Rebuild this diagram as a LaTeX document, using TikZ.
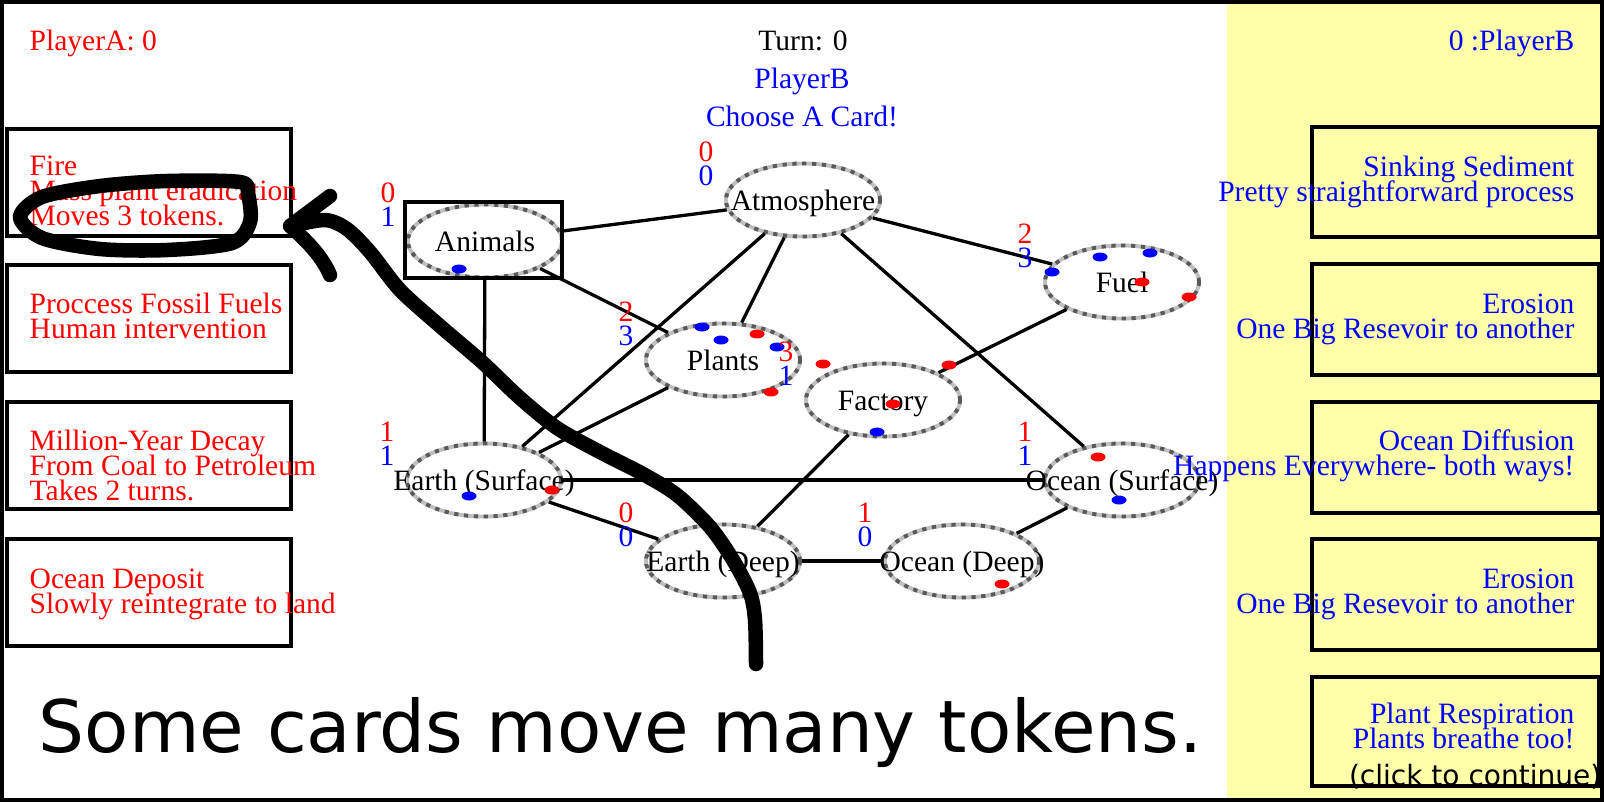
\documentclass[tikz,border=0pt]{standalone}
\usepackage{fontspec}
\setmainfont{Liberation Serif}
\newfontfamily\capfont{DejaVu Sans}
\usetikzlibrary{shapes.geometric}
\definecolor{panel}{RGB}{255,255,170}

\begin{document}
\begin{tikzpicture}[x=0.01cm, y=-0.01cm,
    txt/.style={inner sep=0pt, font=\fontsize{8.4}{10}\selectfont},
    cardA/.style={txt, red, anchor=base west},
    cardB/.style={txt, blue, anchor=base east},
    cnt/.style={txt, anchor=base},
    pool/.style={ellipse, minimum width=1.54cm, minimum height=0.73cm, inner sep=0pt,
        fill=white, draw=black!25, line width=1.1pt,
        postaction={draw=black!65, line width=1.1pt, dash pattern=on 1.2pt off 1.6pt}},
    pooltxt/.style={txt, anchor=base},
    card/.style={draw=black, line width=0.04cm},
    link/.style={draw=black, line width=0.033cm},
    marker/.style={draw=black, line width=0.145cm, line cap=round, line join=round}]
    \useasboundingbox (0,0) rectangle (1604,802);

    % panel and frame
    \fill[panel] (1227,0) rectangle (1604,802);
    \draw[line width=0.04cm] (2,2) rectangle (1602,800);

    % cards of player A
    \draw[card] (7,129) rectangle (291,236);
    \draw[card] (7,265) rectangle (291,372);
    \draw[card] (7,402) rectangle (291,509);
    \draw[card] (7,539) rectangle (291,646);
    % cards of player B
    \draw[card] (1312,127) rectangle (1599,237);
    \draw[card] (1312,264) rectangle (1599,375);
    \draw[card] (1312,402) rectangle (1599,513);
    \draw[card] (1312,539) rectangle (1599,650);
    \draw[card] (1312,677) rectangle (1599,786);

    % reservoirs
    \node[pool] (atmo) at (803,200) {};
    \node[pool] (animals) at (485,241) {};
    \node[pool] (plants) at (723,360) {};
    \node[pool] (fuel) at (1122,282) {};
    \node[pool] (factory) at (883,400) {};
    \node[pool] (earthS) at (484,480) {};
    \node[pool] (earthD) at (723,561) {};
    \node[pool] (oceanS) at (1122,480) {};
    \node[pool] (oceanD) at (962,561) {};
    \draw[card, line width=0.035cm] (405,202) rectangle (562,278);

    \draw[link] (animals) -- (atmo);
    \draw[link] (animals) -- (plants);
    \draw[link] (animals) -- (earthS);
    \draw[link] (atmo) -- (plants);
    \draw[link] (atmo) -- (earthS);
    \draw[link] (atmo) -- (fuel);
    \draw[link] (atmo) -- (oceanS);
    \draw[link] (fuel) -- (factory);
    \draw[link] (plants) -- (earthS);
    \draw[link] (factory) -- (earthD);
    \draw[link] (earthS) -- (oceanS);
    \draw[link] (earthS) -- (earthD);
    \draw[link] (earthD) -- (oceanD);
    \draw[link] (oceanD) -- (oceanS);

    \node[pooltxt] (atmoT) at ([shift={(0,10)}]atmo.center) {Atmosphere};
    \node[pooltxt] (animalsT) at ([shift={(0,10)}]animals.center) {Animals};
    \node[pooltxt] (plantsT) at ([shift={(0,10)}]plants.center) {Plants};
    \node[pooltxt] (fuelT) at ([shift={(0,10)}]fuel.center) {Fuel};
    \node[pooltxt] (factoryT) at ([shift={(0,10)}]factory.center) {Factory};
    \node[pooltxt] (earthST) at ([shift={(0,10)}]earthS.center) {Earth (Surface)};
    \node[pooltxt] (earthDT) at ([shift={(0,10)}]earthD.center) {Earth (Deep)};
    \node[pooltxt] (oceanST) at ([shift={(0,10)}]oceanS.center) {Ocean (Surface)};
    \node[pooltxt] (oceanDT) at ([shift={(0,10)}]oceanD.center) {Ocean (Deep)};

    % tokens
    \fill[blue] (459,269) ellipse (0.075cm and 0.045cm);
    \fill[blue] (702,327) ellipse (0.075cm and 0.045cm);
    \fill[blue] (721,340) ellipse (0.075cm and 0.045cm);
    \fill[red]  (757,334) ellipse (0.075cm and 0.045cm);
    \fill[blue] (777,347) ellipse (0.075cm and 0.045cm);
    \fill[red]  (771,392) ellipse (0.075cm and 0.045cm);
    \fill[red]  (823,364) ellipse (0.075cm and 0.045cm);
    \fill[red]  (949,365) ellipse (0.075cm and 0.045cm);
    \fill[red]  (893,404) ellipse (0.075cm and 0.045cm);
    \fill[blue] (877,432) ellipse (0.075cm and 0.045cm);
    \fill[blue] (1052,272) ellipse (0.075cm and 0.045cm);
    \fill[blue] (1100,257) ellipse (0.075cm and 0.045cm);
    \fill[blue] (1150,253) ellipse (0.075cm and 0.045cm);
    \fill[red]  (1142,282) ellipse (0.075cm and 0.045cm);
    \fill[red]  (1189,297) ellipse (0.075cm and 0.045cm);
    \fill[blue] (469,496) ellipse (0.075cm and 0.045cm);
    \fill[red]  (552,490) ellipse (0.075cm and 0.045cm);
    \fill[red]  (1098,457) ellipse (0.075cm and 0.045cm);
    \fill[blue] (1119,500) ellipse (0.075cm and 0.045cm);
    \fill[red]  (1002,584) ellipse (0.075cm and 0.045cm);

    % counts per reservoir
    \node[cnt, red]  (atmoR) at ([shift={(-97,-39)}]atmo.center) {0};
    \node[cnt, blue] (atmoB) at ([shift={(-97,-15)}]atmo.center) {0};
    \node[cnt, red]  (animalsR) at ([shift={(-97,-39)}]animals.center) {0};
    \node[cnt, blue] (animalsB) at ([shift={(-97,-15)}]animals.center) {1};
    \node[cnt, red]  (plantsR) at ([shift={(-97,-39)}]plants.center) {2};
    \node[cnt, blue] (plantsB) at ([shift={(-97,-15)}]plants.center) {3};
    \node[cnt, red]  (fuelR) at ([shift={(-97,-39)}]fuel.center) {2};
    \node[cnt, blue] (fuelB) at ([shift={(-97,-15)}]fuel.center) {3};
    \node[cnt, red]  (factoryR) at ([shift={(-97,-39)}]factory.center) {3};
    \node[cnt, blue] (factoryB) at ([shift={(-97,-15)}]factory.center) {1};
    \node[cnt, red]  (earthSR) at ([shift={(-97,-39)}]earthS.center) {1};
    \node[cnt, blue] (earthSB) at ([shift={(-97,-15)}]earthS.center) {1};
    \node[cnt, red]  (earthDR) at ([shift={(-97,-39)}]earthD.center) {0};
    \node[cnt, blue] (earthDB) at ([shift={(-97,-15)}]earthD.center) {0};
    \node[cnt, red]  (oceanSR) at ([shift={(-97,-39)}]oceanS.center) {1};
    \node[cnt, blue] (oceanSB) at ([shift={(-97,-15)}]oceanS.center) {1};
    \node[cnt, red]  (oceanDR) at ([shift={(-97,-39)}]oceanD.center) {1};
    \node[cnt, blue] (oceanDB) at ([shift={(-97,-15)}]oceanD.center) {0};

    % scores and turn
    \node[txt, red, anchor=base west] (scoreA) at (29,50) {PlayerA: 0};
    \node[txt, anchor=base] (turn) at (803,50) {Turn: 0};
    \node[txt, blue, anchor=base] (who) at (802,88) {PlayerB};
    \node[txt, blue, anchor=base] (prompt) at (802,126) {Choose A Card!};
    \node[txt, blue, anchor=base east] (scoreB) at (1575,50) {0 :PlayerB};

    % card texts
    \node[cardA] (fireA) at (29,175) {Fire};
    \node[cardA] (fireB) at (29,200) {Mass plant eradication};
    \node[cardA] (fireC) at (29,225) {Moves 3 tokens.};
    \node[cardA] (fossilA) at (29,313) {Proccess Fossil Fuels};
    \node[cardA] (fossilB) at (29,338) {Human intervention};
    \node[cardA] (decayA) at (29,450) {Million-Year Decay};
    \node[cardA] (decayB) at (29,475) {From Coal to Petroleum};
    \node[cardA] (decayC) at (29,500) {Takes 2 turns.};
    \node[cardA] (depositA) at (29,588) {Ocean Deposit};
    \node[cardA] (depositB) at (29,613) {Slowly reintegrate to land};

    \node[cardB] (sinkA) at (1575,176) {Sinking Sediment};
    \node[cardB] (sinkB) at (1575,201) {Pretty straightforward process};
    \node[cardB] (erosionA) at (1575,313) {Erosion};
    \node[cardB] (erosionB) at (1575,338) {One Big Resevoir to another};
    \node[cardB] (diffusionA) at (1575,450) {Ocean Diffusion};
    \node[cardB] (diffusionB) at (1575,475) {Happens Everywhere- both ways!};
    \node[cardB] (erosionC) at (1575,588) {Erosion};
    \node[cardB] (erosionD) at (1575,613) {One Big Resevoir to another};
    \node[cardB] (respA) at (1575,723) {Plant Respiration};
    \node[cardB] (respB) at (1575,748) {Plants breathe too!};
    \node[inner sep=0pt, anchor=base east, font=\capfont\fontsize{7.97}{9}\selectfont] (clickon) at (1602,785) {(click to continue)};

    % hand drawn marks
    \draw[marker] plot[smooth cycle] coordinates {(240,182) (167,181) (100,186) (42,197) (20,217) (42,238) (100,249) (167,250) (232,243) (250,222) (248,194)};
    \draw[marker] plot[smooth] coordinates {(756,664) (755,620) (750,593) (733,560) (710,527) (677,495) (643,474) (600,452) (557,428) (520,398) (482,362) (440,326) (400,290) (370,252) (347,229) (325,220) (291,226)};
    \draw[marker] (330,196) -- (290,226) .. controls (306,240) and (322,256) .. (330,275);

    \node[inner sep=0pt, anchor=base west, font=\capfont\fontsize{20.6}{24}\selectfont] (caption) at (38,752) {Some cards move many tokens.};
\end{tikzpicture}
\end{document}
